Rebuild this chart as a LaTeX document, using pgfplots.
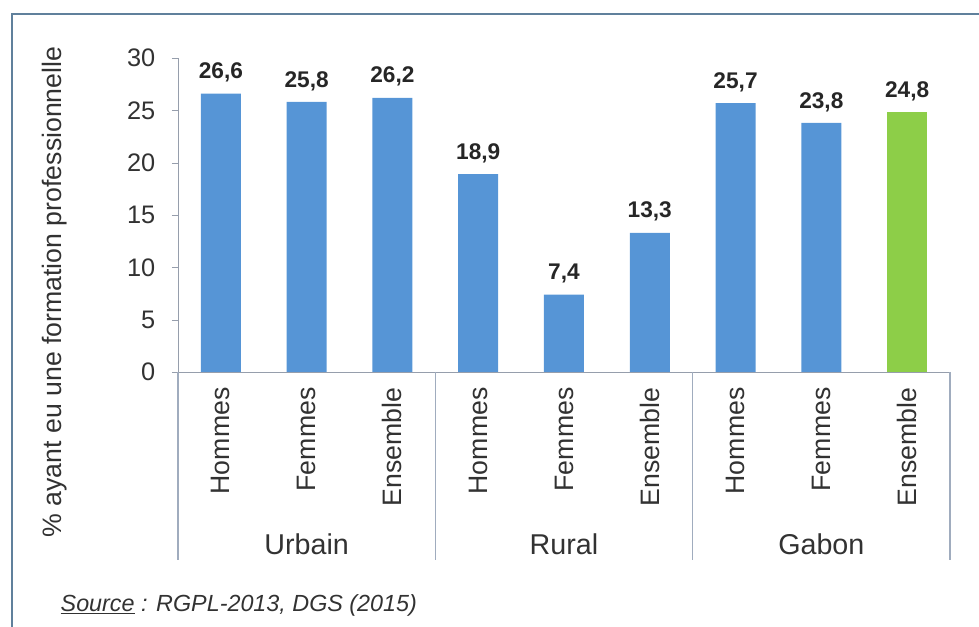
\documentclass[border=0pt]{standalone}
\usepackage{fontspec}
\setmainfont{Liberation Sans}
\usepackage{pgfplots}
\pgfplotsset{compat=1.18}
\definecolor{barblue}{RGB}{86,149,214}
\definecolor{bargreen}{RGB}{141,206,72}
\definecolor{axisgray}{RGB}{150,158,172}
\definecolor{sepgray}{RGB}{160,172,190}
\definecolor{framecol}{RGB}{96,128,156}
\definecolor{txt}{RGB}{50,50,50}

\begin{document}
\begin{tikzpicture}
% 1 px de la reference = 0.75pt
\useasboundingbox (0pt,0pt) rectangle (734.25pt,470.25pt);
% cadre (coupe a droite et en bas)
\draw[framecol, line width=1.5pt] (9pt,0pt) -- (9pt,459.75pt) -- (734.25pt,459.75pt);

\begin{axis}[
  at={(133.5pt,191.25pt)}, anchor=south west,
  scale only axis, width=579pt, height=235.5pt,
  xmin=-0.5, xmax=8.5, ymin=0, ymax=30,
  axis x line=bottom, axis y line=left,
  axis line style={axisgray, -},
  clip=false,
  ybar, bar width=30pt, bar shift=0pt,
  xtick={0,...,8},
  xticklabels={Hommes,Femmes,Ensemble,Hommes,Femmes,Ensemble,Hommes,Femmes,Ensemble},
  x tick style={draw=none},
  xticklabel style={rotate=90, anchor=east, inner xsep=7pt,
    font=\fontsize{20}{24}\selectfont, text=txt},
  ytick={0,5,...,30},
  y tick style={axisgray},
  tick align=outside, major tick length=4.5pt,
  yticklabel style={font=\fontsize{19}{22}\selectfont, text=txt, xshift=-9pt},
  /pgf/number format/assume math mode=true,
  /pgf/number format/use comma,
  nodes near coords,
  nodes near coords style={font=\bfseries\fontsize{17}{20}\selectfont,
    text=black!85, anchor=south, yshift=5pt,
    /pgf/number format/.cd, fixed, fixed zerofill, precision=1, use comma},
]
\addplot[draw=none, fill=barblue] coordinates {
  (0,26.6) (1,25.8) (2,26.2)
  (3,18.9) (4,7.4) (5,13.3)
  (6,25.7) (7,23.8)
};
\addplot[draw=none, fill=bargreen] coordinates {(8,24.8)};

% separateurs de groupes
\draw[sepgray, line width=1pt] (axis cs:-0.5,0) -- (axis cs:-0.5,-18);
\draw[sepgray, line width=1pt] (axis cs:2.5,0) -- (axis cs:2.5,-18);
\draw[sepgray, line width=1pt] (axis cs:5.5,0) -- (axis cs:5.5,-18);
\draw[sepgray, line width=1pt] (axis cs:8.5,0) -- (axis cs:8.5,-18);
\node[font=\fontsize{21.5}{25}\selectfont, text=txt] at (axis cs:1,-16.5) {Urbain};
\node[font=\fontsize{21.5}{25}\selectfont, text=txt] at (axis cs:4,-16.5) {Rural};
\node[font=\fontsize{21.5}{25}\selectfont, text=txt] at (axis cs:7,-16.5) {Gabon};
\end{axis}

\node[rotate=90, font=\fontsize{20}{24}\selectfont, text=txt] at (41.25pt,251.25pt)
  {\% ayant eu une formation professionnelle};
\node[anchor=west, font=\itshape\fontsize{17.5}{21}\selectfont, text=txt] at (42pt,16.5pt)
  {\underline{Source} : RGPL-2013, DGS (2015)};
\end{tikzpicture}
\end{document}
